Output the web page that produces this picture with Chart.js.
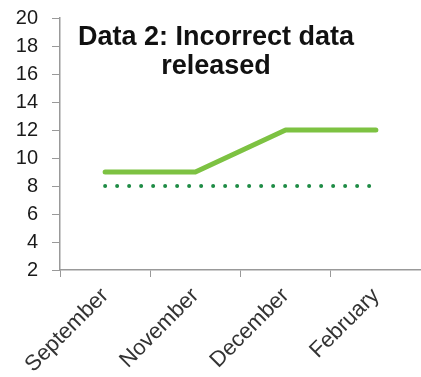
<!DOCTYPE html>
<html>
<head>
<meta charset="utf-8">
<script src="https://cdn.jsdelivr.net/npm/chart.js@4"></script>
<style>
  html, body { margin: 0; padding: 0; background: #fff; }
  #wrap { position: relative; width: 421px; height: 377px; }
</style>
</head>
<body>
<div id="wrap"><canvas id="chart"></canvas></div>
<script>
const months = ['September', 'November', 'December', 'February'];
const releasedValues = [9, 9, 12, 12];
const baselineValues = [8, 8, 8, 8];
const titleLines = ['Data 2: Incorrect data', 'released'];

const FONT = '"Liberation Sans", Arial, sans-serif';

// draws the title inside the plot, like the original
const titleInside = {
    id: 'titleInside',
    afterDraw(chart) {
        const ctx = chart.ctx;
        ctx.save();
        ctx.font = 'bold 27px ' + FONT;
        ctx.fillStyle = '#111';
        ctx.textAlign = 'center';
        ctx.textBaseline = 'alphabetic';
        titleLines.forEach((line, i) => {
            ctx.fillText(line, 216, 45 + i * 29);
        });
        ctx.restore();
    }
};

const ctx = document.getElementById('chart');

new Chart(ctx, {
    type: 'line',
    data: {
        labels: months,
        datasets: [
            {
                label: 'Released',
                data: releasedValues,
                borderColor: '#7dc242',
                borderWidth: 5,
                borderCapStyle: 'round',
                borderJoinStyle: 'round',
                pointRadius: 0,
                tension: 0
            },
            {
                label: 'Baseline',
                data: baselineValues,
                borderColor: '#1e8c45',
                borderWidth: 4,
                borderDash: [0, 12],
                borderCapStyle: 'round',
                pointRadius: 0,
                tension: 0
            }
        ]
    },
    options: {
        responsive: true,
        maintainAspectRatio: false,
        animation: false,
        layout: { padding: 0 },
        plugins: {
            legend: { display: false },
            tooltip: { enabled: false }
        },
        scales: {
            x: {
                offset: true,
                grid: {
                    offset: true,
                    drawOnChartArea: false,
                    drawTicks: true,
                    tickLength: 7,
                    color: '#999'
                },
                border: { color: '#999', width: 1.5 },
                ticks: {
                    autoSkip: false,
                    maxRotation: 45,
                    minRotation: 45,
                    padding: 6,
                    color: '#333',
                    font: { family: FONT, size: 22 }
                },
                afterFit: s => { s.height = 107; }
            },
            y: {
                min: 2,
                max: 20,
                grid: {
                    drawOnChartArea: false,
                    drawTicks: true,
                    tickLength: 8,
                    color: '#999'
                },
                border: { color: '#999', width: 1.5 },
                ticks: {
                    stepSize: 2,
                    padding: 14,
                    color: '#1a1a1a',
                    font: { family: FONT, size: 20 }
                },
                afterFit: s => {
                    s.width = 60;
                    // top of the axis sits at y=18 like the original
                    s.paddingTop = 18;
                    s.paddingBottom = 0;
                }
            }
        }
    },
    plugins: [titleInside]
});
</script>
</body>
</html>
